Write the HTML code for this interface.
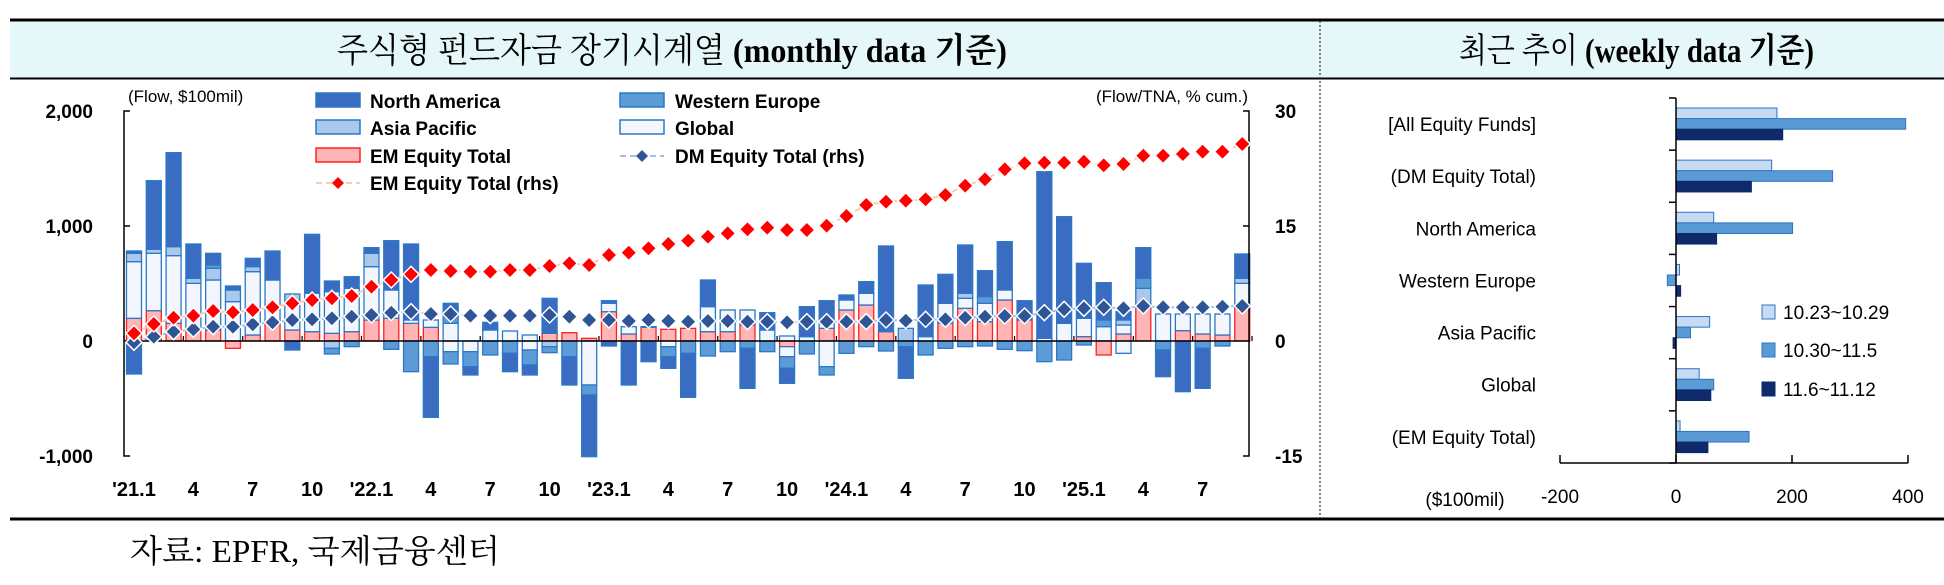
<!DOCTYPE html>
<html><head><meta charset="utf-8"><style>
html,body{margin:0;padding:0;background:#fff;}
svg{display:block;}
</style></head><body>
<svg id="s" xmlns="http://www.w3.org/2000/svg" width="1944" height="585" viewBox="0 0 1944 585">
<rect x="0" y="0" width="1944" height="585" fill="#fff"/>
<rect x="10" y="21" width="1934" height="57" fill="#e5f7f8"/>
<line x1="10" y1="20" x2="1944" y2="20" stroke="#000" stroke-width="3"/>
<line x1="10" y1="78.5" x2="1944" y2="78.5" stroke="#000" stroke-width="2"/>
<line x1="10" y1="519" x2="1944" y2="519" stroke="#000" stroke-width="3"/>
<line x1="1320" y1="21" x2="1320" y2="518" stroke="#333" stroke-width="1.2" stroke-dasharray="2,2"/>
<text x="337" y="62" font-family="Liberation Serif, Noto Serif CJK SC, serif" font-size="34" textLength="670" lengthAdjust="spacingAndGlyphs">주식형 펀드자금 장기시계열 <tspan font-weight="bold">(monthly data 기준)</tspan></text>
<text x="1459" y="62" font-family="Liberation Serif, Noto Serif CJK SC, serif" font-size="34" textLength="355" lengthAdjust="spacingAndGlyphs">최근 추이 <tspan font-weight="bold">(weekly data 기준)</tspan></text>
<text x="130" y="562" font-family="Liberation Serif, Noto Serif CJK SC, serif" font-size="32" textLength="370" lengthAdjust="spacingAndGlyphs">자료: EPFR,  국제금융센터</text>
<g id="L"></g>
<g id="R"></g>
</svg>
<script>
const NS="http://www.w3.org/2000/svg";
function el(p,t,a,txt){const e=document.createElementNS(NS,t);for(const k in a)e.setAttribute(k,a[k]);if(txt!==undefined)e.textContent=txt;p.appendChild(e);return e;}
const L=document.getElementById('L'),R=document.getElementById('R');
const F="Liberation Sans, sans-serif";
// left chart
const y0=341, Y=v=>y0-v*0.115;
const col={E:'#ffb5b5',G:'#f3f7fd',A:'#a9c8eb',W:'#5d9bd6',N:'#3a6cc2'};
const stk={E:'#ff2020',G:'#2a78c8',A:'#2a78c8',W:'#2a78c8',N:'#2a78c8'};
const D=[
"E685,G515,A490,N483|N852","E662,G490,A478,N272|","E700,G497,A470,N188|","E720,G580,A565,N462|","E720,G570,A535,W525,N490|",
"G635,A600,N588|E775","E735,G545,A530,N505|","E700,G570,N483|","E720,G640,A612|N780","E725,G610,N433|",
"E730,G605,N573|A775,W792","E725,G595,N560|W770","E690,G530,A490,N473|","E685,G600,N452|W778","E700,G690,N462|W845",
"E712,G690|W800,N982","G700,W660,N640|G785,W822","|G785,W830,N855","G720,N697|W795","G723|W790,N845",
"G735|G780,W825,N855","E730,N625|A770,W788","E728|W800,N885","E745|G885,W915,N1100","E665,G640,N632|N768",
"E732,G710|N885","E712,G710|N815","E718|G770,W800,N835","E715|W790,N922","E725,G650,N570|W798",
"E725,G660|W785","E705,G660|W775,N895","G720,N668|W785","G738|E770,G800,W835,N880","G740,N650|W792",
"E715,G700,N632|G830,W855","E660,G630,N615|W790","E645,G610,N575|W770","E725,N468|W783","A715|W770,N865",
"G740,N585|W795","E700,G640,N553|W775","E655,G625,A610,N465|W770","E695,G640,W620,N542|W768","E630,G600,N455|W778",
"E690,N632|W782","G745,N245|W815","G700,N380|W810","E740,G685,N520|W765","G710,W690,N578|E795",
"E732,G705,A690,N665|G790","E655,A595,W565,N473|","G672|W780,N860","E722,G672|N905","E732,G672|W775,N895",
"E735,G672|W768","E655,G580,A565,N492|"];
const cx=i=>134+19.79*i, yz=z=>90+z/3;
D.forEach((s,i)=>{const [p,n]=s.split('|');let prev=y0;
 if(p)p.split(',').forEach(t=>{const k=t[0],y=yz(+t.slice(1));el(L,'rect',{x:cx(i)-7.5,y:y,width:15,height:prev-y,fill:col[k],stroke:stk[k],'stroke-width':1.3});prev=y;});
 prev=y0;
 if(n)n.split(',').forEach(t=>{const k=t[0],y=yz(+t.slice(1));el(L,'rect',{x:cx(i)-7.5,y:prev,width:15,height:y-prev,fill:col[k],stroke:stk[k],'stroke-width':1.3});prev=y;});
});
// zero line & axes
el(L,'line',{x1:124,y1:y0,x2:1250,y2:y0,stroke:'#000','stroke-width':1.5});
for(let i=0;i<=57;i+=3){const x=124+19.79*i;el(L,'line',{x1:x,y1:y0,x2:x,y2:y0-5,stroke:'#000','stroke-width':1.2});}
el(L,'path',{d:'M130 111 H124 V456 H130',fill:'none',stroke:'#000','stroke-width':1.5});
el(L,'line',{x1:124,y1:226,x2:130,y2:226,stroke:'#000','stroke-width':1.5});
el(L,'path',{d:'M1243 111 H1249 V456 H1243',fill:'none',stroke:'#000','stroke-width':1.5});
el(L,'line',{x1:1243,y1:226,x2:1249,y2:226,stroke:'#000','stroke-width':1.5});
[['2,000',111],['1,000',226],['0',341],['-1,000',456]].forEach(a=>el(L,'text',{x:93,y:a[1]+7,'text-anchor':'end','font-family':F,'font-size':19,'font-weight':'bold'},a[0]));
[['30',111],['15',226],['0',341],['-15',456]].forEach(a=>el(L,'text',{x:1275,y:a[1]+7,'font-family':F,'font-size':19,'font-weight':'bold'},a[0]));
el(L,'text',{x:128,y:102,'font-family':F,'font-size':17},'(Flow, $100mil)');
el(L,'text',{x:1248,y:102,'text-anchor':'end','font-family':F,'font-size':17},'(Flow/TNA, % cum.)');
const lab=["'21.1","4","7","10","'22.1","4","7","10","'23.1","4","7","10","'24.1","4","7","10","'25.1","4","7"];
lab.forEach((t,j)=>el(L,'text',{x:cx(j*3),y:496,'text-anchor':'middle','font-family':F,'font-size':20,'font-weight':'bold'},t));
// lines
const EM=[730,702,683,677,663,667,660,652,640,630,625,618,590,570,553,540,543,545,545,540,540,528,520,525,495,488,475,462,452,440,430,418,413,420,420,407,378,345,335,332,328,315,287,268,238,220,218,218,215,226,222,197,197,192,185,185,162];
const DM=[757,740,725,718,710,710,703,697,690,688,685,680,675,668,665,672,672,677,677,677,677,675,680,690,690,693,690,693,695,693,693,695,695,697,695,695,695,695,690,692,688,688,683,680,678,678,668,658,655,652,655,648,652,652,652,650,648];
function series(arr,lc,fc,sz){el(L,'polyline',{points:arr.map((v,i)=>cx(i)+','+yz(v)).join(' '),fill:'none',stroke:lc,'stroke-width':2,'stroke-dasharray':'6,4'});
 arr.forEach((v,i)=>{const x=cx(i),y=yz(v);el(L,'path',{d:`M${x} ${y-sz}L${x+sz} ${y}L${x} ${y+sz}L${x-sz} ${y}Z`,fill:fc,stroke:'#fff','stroke-width':1.5});});}
series(DM,'#9dc3e6','#2f5597',8);
series(EM,'#f8cbad','#ff0000',8);
// legend
function sw(x,y,k){el(L,'rect',{x:x,y:y-8,width:44,height:14,fill:col[k],stroke:stk[k],'stroke-width':1.5});}
const lf={'font-family':F,'font-size':19,'font-weight':'bold'};
sw(316,101,'N');el(L,'text',Object.assign({x:370,y:108},lf),'North America');
sw(316,128,'A');el(L,'text',Object.assign({x:370,y:135},lf),'Asia Pacific');
sw(316,156,'E');el(L,'text',Object.assign({x:370,y:163},lf),'EM Equity Total');
el(L,'line',{x1:316,y1:183,x2:360,y2:183,stroke:'#f8cbad','stroke-width':2,'stroke-dasharray':'6,4'});
el(L,'path',{d:'M338 177L344 183L338 189L332 183Z',fill:'#ff0000'});
el(L,'text',Object.assign({x:370,y:190},lf),'EM Equity Total (rhs)');
sw(620,101,'W');el(L,'text',Object.assign({x:675,y:108},lf),'Western Europe');
sw(620,128,'G');el(L,'text',Object.assign({x:675,y:135},lf),'Global');
el(L,'line',{x1:620,y1:156,x2:664,y2:156,stroke:'#9dc3e6','stroke-width':2,'stroke-dasharray':'6,4'});
el(L,'path',{d:'M642 150L648 156L642 162L636 156Z',fill:'#2f5597'});
el(L,'text',Object.assign({x:675,y:163},lf),'DM Equity Total (rhs)');
// right chart
const X0=1676, XV=v=>X0+v*0.58;
const cats=['[All Equity Funds]','(DM Equity Total)','North America','Western Europe','Asia Pacific','Global','(EM Equity Total)'];
const vals=[[174,396,184],[165,270,130],[65,201,70],[6,-15,8],[58,25,-5],[40,65,60],[7,126,55]];
const rc=['#c6daf2','#5b9bd5','#0e2a6b'];
cats.forEach((c,i)=>{const t=98+52.14*i;
 vals[i].forEach((v,j)=>{const y=t+10+j*10.6;const x1=Math.min(X0,XV(v)),w=Math.abs(XV(v)-X0);
  el(R,'rect',{x:x1,y:y,width:Math.max(w,1.5),height:10.6,fill:rc[j],stroke:j==2?'#0e2a6b':'#2e75c6','stroke-width':1});});
 el(R,'text',{x:1536,y:t+33,'text-anchor':'end','font-family':F,'font-size':19},c);
});
el(R,'line',{x1:X0,y1:98,x2:X0,y2:463,stroke:'#000','stroke-width':1.5});
for(let i=0;i<=7;i++){const y=98+52.14*i;el(R,'line',{x1:X0-7,y1:y,x2:X0,y2:y,stroke:'#000','stroke-width':1.5});}
el(R,'line',{x1:1560,y1:463,x2:1908,y2:463,stroke:'#000','stroke-width':1.5});
[-200,0,200,400].forEach(v=>{el(R,'line',{x1:XV(v),y1:455,x2:XV(v),y2:463,stroke:'#000','stroke-width':1.5});
 el(R,'text',{x:XV(v),y:503,'text-anchor':'middle','font-family':F,'font-size':19},String(v));});
el(R,'text',{x:1465,y:506,'text-anchor':'middle','font-family':F,'font-size':19},'($100mil)');
[['10.23~10.29',312],['10.30~11.5',350],['11.6~11.12',389]].forEach((a,j)=>{
 el(R,'rect',{x:1762,y:a[1]-7,width:13,height:14,fill:rc[j],stroke:j==2?'#0e2a6b':'#2e75c6','stroke-width':1});
 el(R,'text',{x:1783,y:a[1]+7,'font-family':F,'font-size':19},a[0]);});
</script>
</body></html>
